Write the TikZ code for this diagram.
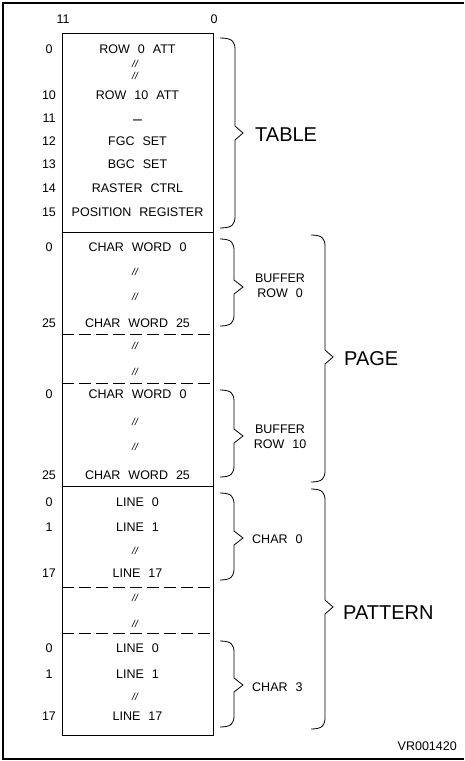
\documentclass[tikz,border=0pt]{standalone}
\usepackage{fontspec}
\setmainfont[WordSpace=2.3]{Liberation Sans}
\newfontfamily\slfont{Liberation Sans}
\tikzset{
  lbl/.style={inner sep=0pt, font=\fontsize{12.5}{14}\selectfont},
  num/.style={lbl},
  big/.style={inner sep=0pt, anchor=west, font=\fontsize{20}{22}\selectfont},
  sl/.style={inner sep=0pt, font=\slfont\itshape\fontsize{10}{11}\selectfont},
  sep/.style={line width=0.8pt},
  dsep/.style={line width=0.8pt, dash pattern=on 12pt off 5pt},
  brc/.style={line width=0.8pt, line join=miter}
}
\newcommand{\vbrace}[6]{%
  \draw[brc] (#1,#4) .. controls ({#2-2},#4) and (#2,{#4+4}) .. (#2,{#4+12})
    -- (#2,{#5-7}) -- (#3,#5) -- (#2,{#5+7}) -- (#2,{#6-12})
    .. controls (#2,{#6-4}) and ({#2-2},#6) .. (#1,#6);}
\begin{document}
\begin{tikzpicture}[x=1pt,y=-1pt]
\useasboundingbox (0,0) rectangle (464,761);
% frame
\draw[line width=1.2pt] (464,3) -- (3,3) -- (3,759) -- (464,759);
% box
\draw[sep] (62,33) rectangle (213,735);
\draw[sep] (62,232) -- (213,232);
\draw[sep] (62,486) -- (213,486);
\draw[dsep] (62,334) -- (213,334);
\draw[dsep] (62,383) -- (213,383);
\draw[dsep] (62,587) -- (213,587);
\draw[dsep] (62,633) -- (213,633);
% header
\node[num] (h11) at (63,19) {11};
\node[num] (h0) at (214,19) {0};
% table
\node[num] (n0) at (49,49) {0};
\node[num] (n10) at (49,95) {10};
\node[num] (n11) at (49,118) {11};
\node[num] (n12) at (49,141) {12};
\node[num] (n13) at (49,164) {13};
\node[num] (n14) at (49,188) {14};
\node[num] (n15) at (49,212) {15};
\node[lbl] (t0) at (137.5,49) {ROW 0 ATT};
\node[sl] (ts1) at (135,64) {//};
\node[sl] (ts2) at (135,76) {//};
\node[lbl] (t10) at (137.5,95) {ROW 10 ATT};
\node[inner sep=0pt, font=\fontsize{16}{16}\selectfont] (t11) at (137.5,122) {–};
\node[lbl] (t12) at (137.5,141) {FGC SET};
\node[lbl] (t13) at (137.5,164) {BGC SET};
\node[lbl] (t14) at (137.5,188) {RASTER CTRL};
\node[lbl] (t15) at (137.5,212) {POSITION REGISTER};
% page
\node[num] (p0a) at (49,247) {0};
\node[num] (p25a) at (49,323) {25};
\node[num] (p0b) at (49,394) {0};
\node[num] (p25b) at (49,475) {25};
\node[lbl] (cw0a) at (137.5,247) {CHAR WORD 0};
\node[sl] (ps1) at (135,272) {//};
\node[sl] (ps2) at (135,297) {//};
\node[lbl] (cw25a) at (137.5,323) {CHAR WORD 25};
\node[sl] (ps3) at (135,346) {//};
\node[sl] (ps4) at (135,372) {//};
\node[lbl] (cw0b) at (137.5,394) {CHAR WORD 0};
\node[sl] (ps5) at (135,422) {//};
\node[sl] (ps6) at (135,447) {//};
\node[lbl] (cw25b) at (137.5,475) {CHAR WORD 25};
% pattern
\node[num] (q0a) at (49,502) {0};
\node[num] (q1a) at (49,527) {1};
\node[num] (q17a) at (49,573) {17};
\node[num] (q0b) at (49,648) {0};
\node[num] (q1b) at (49,674) {1};
\node[num] (q17b) at (49,716) {17};
\node[lbl] (l0a) at (137.5,502) {LINE 0};
\node[lbl] (l1a) at (137.5,527) {LINE 1};
\node[sl] (qs1) at (135,551) {//};
\node[lbl] (l17a) at (137.5,573) {LINE 17};
\node[sl] (qs2) at (135,598) {//};
\node[sl] (qs3) at (135,624) {//};
\node[lbl] (l0b) at (137.5,648) {LINE 0};
\node[lbl] (l1b) at (137.5,674) {LINE 1};
\node[sl] (qs4) at (135,697) {//};
\node[lbl] (l17b) at (137.5,716) {LINE 17};
% braces
\vbrace{220}{235}{243}{38}{133}{228}
\vbrace{220}{234}{243}{239}{287}{326}
\vbrace{220}{234}{243}{390}{436}{477}
\vbrace{311}{325}{333}{235}{357}{482}
\vbrace{220}{234}{243}{493}{538}{580}
\vbrace{220}{234}{243}{641}{685}{727}
\vbrace{311}{325}{333}{489}{607}{729}
% brace labels
\node[big] (table) at (255,135) {TABLE};
\node[big] (page) at (344,359) {PAGE};
\node[big] (pattern) at (343,613) {PATTERN};
\node[lbl, align=center] (buf0) at (280,286) {BUFFER\\[1.5pt]ROW 0};
\node[lbl, align=center] (buf10) at (280,437) {BUFFER\\[1.5pt]ROW 10};
\node[lbl, anchor=west] (ch0) at (252,539) {CHAR 0};
\node[lbl, anchor=west] (ch3) at (252,687) {CHAR 3};
\node[lbl, anchor=east] (vr) at (457,746) {VR001420};
\end{tikzpicture}
\end{document}
